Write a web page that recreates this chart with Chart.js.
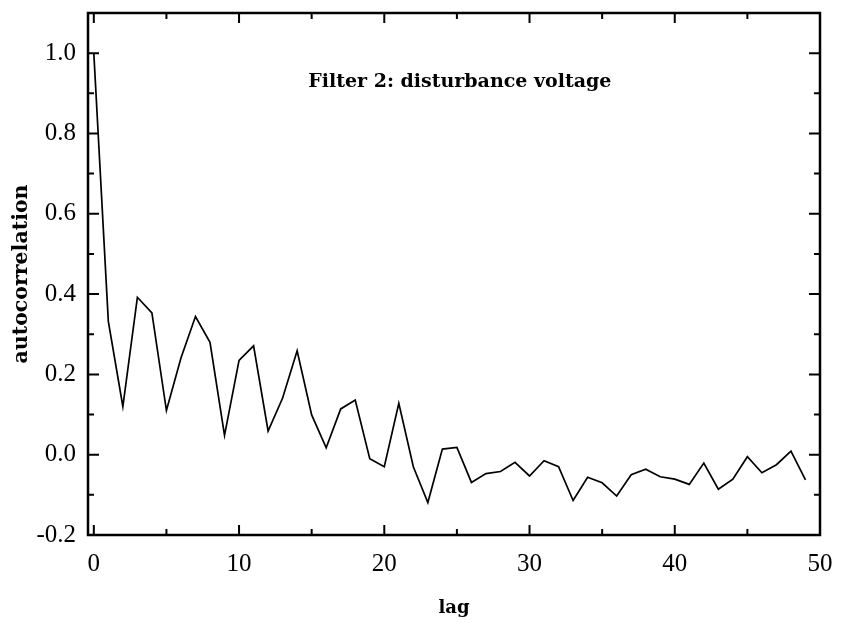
<!DOCTYPE html>
<html>
<head>
<meta charset="utf-8">
<script src="https://cdn.jsdelivr.net/npm/chart.js@4.4.0/dist/chart.umd.min.js"></script>
<style>
  html, body { margin: 0; padding: 0; background: #fff; }
</style>
</head>
<body>
<canvas id="acfChart" width="842" height="629"></canvas>
<script>
// lag index and autocorrelation
var lags = [0, 1, 2, 3, 4, 5, 6, 7, 8, 9,
    10, 11, 12, 13, 14, 15, 16, 17, 18, 19,
    20, 21, 22, 23, 24, 25, 26, 27, 28, 29,
    30, 31, 32, 33, 34, 35, 36, 37, 38, 39,
    40, 41, 42, 43, 44, 45, 46, 47, 48, 49];
var autocorr = [1.0, 0.332, 0.120, 0.392, 0.353, 0.110, 0.241, 0.344, 0.280, 0.048,
    0.235, 0.271, 0.059, 0.141, 0.259, 0.099, 0.017, 0.114, 0.136, -0.010,
    -0.030, 0.128, -0.030, -0.119, 0.014, 0.018, -0.069, -0.047, -0.042, -0.019,
    -0.053, -0.015, -0.030, -0.114, -0.056, -0.070, -0.103, -0.050, -0.036, -0.055,
    -0.061, -0.074, -0.021, -0.086, -0.061, -0.005, -0.045, -0.025, 0.009, -0.063];

var xTickValues = [0, 10, 20, 30, 40, 50];
var yTickValues = [-0.2, 0.0, 0.2, 0.4, 0.6, 0.8, 1.0];

var plotTitle = 'Filter 2: disturbance voltage';
var xTitle = 'lag';
var yTitle = 'autocorrelation';

var serif = "'Liberation Serif', 'DejaVu Serif', serif";
var boldSerif = "'DejaVu Serif', 'Liberation Serif', serif";

// frame + inward ticks on all four sides, like the old plotting package
var frameTicks = {
    id: 'frameTicks',
    afterDatasetsDraw: function(chart) {
        var c = chart.ctx, a = chart.chartArea;
        var xs = chart.scales.x, ys = chart.scales.y;
        c.save();
        c.strokeStyle = '#000';
        c.lineWidth = 2.5;
        c.strokeRect(a.left, a.top, a.right - a.left, a.bottom - a.top);
        c.lineWidth = 2;
        c.beginPath();
        for (var i = 0; i < xTickValues.length; i++) {
            var v = xTickValues[i];
            var marks = [[v, 10]];
            if (i < xTickValues.length - 1) marks.push([(v + xTickValues[i + 1]) / 2, 6]);
            marks.forEach(function(m) {
                var px = xs.getPixelForValue(m[0]);
                if (px <= a.left + 2 || px >= a.right - 2) return;
                c.moveTo(px, a.bottom); c.lineTo(px, a.bottom - m[1]);
                c.moveTo(px, a.top); c.lineTo(px, a.top + m[1]);
            });
        }
        for (var j = 0; j < yTickValues.length; j++) {
            var w = yTickValues[j];
            var ymarks = [[w, 11]];
            if (j < yTickValues.length - 1) ymarks.push([(w + yTickValues[j + 1]) / 2, 6]);
            ymarks.forEach(function(m) {
                var py = ys.getPixelForValue(m[0]);
                if (py >= a.bottom - 2 || py <= a.top + 2) return;
                c.moveTo(a.left, py); c.lineTo(a.left + m[1], py);
                c.moveTo(a.right, py); c.lineTo(a.right - m[1], py);
            });
        }
        c.stroke();

        // caption inside the plot
        c.fillStyle = '#000';
        c.font = 'bold 19px ' + boldSerif;
        c.textAlign = 'center';
        c.textBaseline = 'middle';
        c.fillText(plotTitle, xs.getPixelForValue(25.2), ys.getPixelForValue(0.927));
        c.restore();
    }
};

var ctx = document.getElementById('acfChart').getContext('2d');
var myChart = new Chart(ctx, {
    type: 'line',
    data: {
        datasets: [{
            label: yTitle,
            data: lags.map(function(l, i) { return { x: l, y: autocorr[i] }; }),
            borderColor: '#000',
            borderWidth: 1.7,
            pointRadius: 0,
            tension: 0,
            fill: false
        }]
    },
    options: {
        responsive: false,
        animation: false,
        devicePixelRatio: 1,
        layout: { padding: { top: 13, right: 22, left: 0, bottom: 0 } },
        plugins: {
            legend: { display: false },
            tooltip: { enabled: false }
        },
        scales: {
            x: {
                type: 'linear',
                min: -0.4,
                max: 50,
                afterBuildTicks: function(scale) {
                    scale.ticks = xTickValues.map(function(v) { return { value: v }; });
                },
                afterFit: function(scale) {
                    scale.height = 94;
                    scale.paddingLeft = 0;
                    scale.paddingRight = 0;
                },
                grid: { display: false, drawTicks: false },
                border: { display: false },
                ticks: {
                    color: '#000',
                    font: { family: serif, size: 25 },
                    padding: 14,
                    maxRotation: 0,
                    autoSkip: false
                },
                title: {
                    display: true,
                    text: xTitle,
                    color: '#000',
                    font: { family: boldSerif, size: 18, weight: 'bold' },
                    padding: { top: 0, bottom: 10 }
                }
            },
            y: {
                min: -0.2,
                max: 1.1,
                afterBuildTicks: function(scale) {
                    scale.ticks = yTickValues.map(function(v) { return { value: v }; });
                },
                afterFit: function(scale) {
                    scale.width = 88;
                    scale.paddingTop = 0;
                    scale.paddingBottom = 0;
                },
                grid: { display: false, drawTicks: false },
                border: { display: false },
                ticks: {
                    color: '#000',
                    font: { family: serif, size: 25 },
                    padding: 12,
                    callback: function(v) { return v.toFixed(1); }
                },
                title: {
                    display: true,
                    text: yTitle,
                    color: '#000',
                    font: { family: boldSerif, size: 20.5, weight: 'bold' },
                    padding: { top: 9, bottom: 0 }
                }
            }
        }
    },
    plugins: [frameTicks]
});
</script>
</body>
</html>
